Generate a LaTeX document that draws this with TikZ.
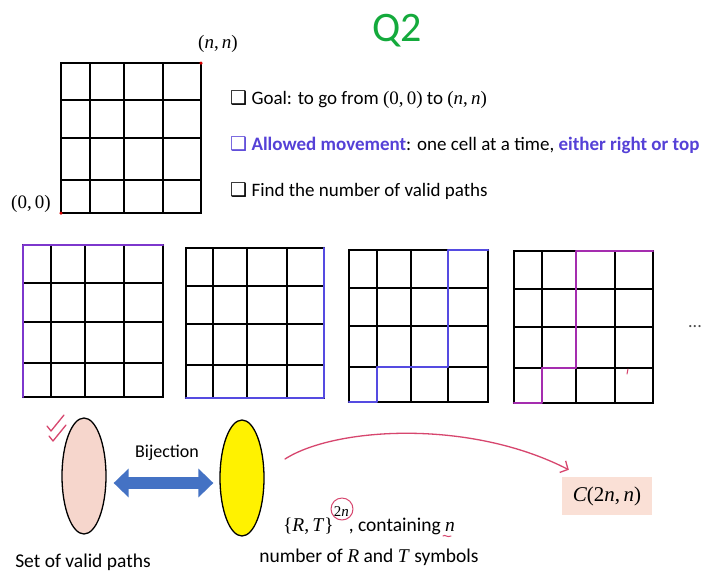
\documentclass[tikz,border=0pt]{standalone}
\usepackage{fontspec}
\setmainfont{Carlito}
\newfontfamily\symfont{DejaVu Sans}
\newfontfamily\mathser{Liberation Serif}
\newcommand{\sv}[1]{{\mathser #1}}
\usetikzlibrary{arrows.meta,shapes.geometric,calc}

\definecolor{qgreen}{RGB}{20,170,60}
\definecolor{mvblue}{RGB}{85,65,215}
\definecolor{pathpurple}{RGB}{125,55,205}
\definecolor{pathblue}{RGB}{85,75,225}
\definecolor{pathmag}{RGB}{165,45,175}
\definecolor{pinkfill}{RGB}{246,214,204}
\definecolor{bijblue}{RGB}{68,114,196}
\definecolor{inkred}{RGB}{215,70,110}
\definecolor{cboxfill}{RGB}{250,224,214}

% one square lattice: #1 x positions, #2 y positions, #3/#4 x range, #5/#6 y range
\newcommand{\latticegrid}[6]{%
  \foreach \gx in {#1} \draw[gridline] (\gx,#5) -- (\gx,#6);
  \foreach \gy in {#2} \draw[gridline] (#3,\gy) -- (#4,\gy);
}

\begin{document}
\begin{tikzpicture}[x=1pt,y=-1pt,
  gridline/.style={line width=2.2pt,black,line cap=rect},
  walk/.style={line width=2.6pt,line cap=round,line join=round},
  bodytext/.style={inner sep=0pt,font=\fontsize{19}{22}\selectfont},
  lowtext/.style={inner sep=0pt,font=\fontsize{19.5}{23}\selectfont},
  mathlabel/.style={inner sep=0pt,font=\fontsize{19}{22}\selectfont},
  cornerdot/.style={circle,fill=red!85!black,inner sep=0pt,minimum size=3.5pt},
  blob/.style={ellipse,draw,line width=1.3pt,inner sep=0pt,minimum width=44pt,minimum height=116pt},
  bij/.style={bijblue,line width=12pt,{Triangle[length=15pt,width=28pt]}-{Triangle[length=15pt,width=28pt]}},
  ink/.style={inkred,line width=1.3pt,line cap=round,line join=round}]
\useasboundingbox (0,0) rectangle (712,571);
\fill[white] (0,0) rectangle (712,571);

% title
\node[inner sep=0pt,text=qgreen,font=\fontsize{42}{46}\selectfont] (title) at (397,31) {Q2};

% reference lattice with its two corners
\latticegrid{61,90,124,163,201}{63,100,138,180,213}{61}{201}{63}{213}
\node[cornerdot] (cnn) at (201,63) {};
\node[cornerdot] (c00) at (61,213) {};
\node[mathlabel] (lnn) at (218,44) {\sv{(\textit{n},\,\textit{n})}};
\node[mathlabel] (l00) at (31,204) {\sv{(0,\,0)}};

% the three statements
\node[bodytext,anchor=west] (goal) at (230,100)
  {{\symfont ❑}\ Goal: to go from \sv{(0,\,0)} to \sv{(\textit{n},\,\textit{n})}};
\node[bodytext,anchor=west] (moves) at (230,145)
  {{\color{mvblue}{\symfont ❑}\ \textbf{Allowed movement}}: one cell at a time, {\color{mvblue}\textbf{either right or top}}};
\node[bodytext,anchor=west] (count) at (230,191)
  {{\symfont ❑}\ Find the number of valid paths};

% example walks
\latticegrid{23,51,85,124,163}{245,283,322,363,397}{23}{163}{245}{397}
\draw[walk,pathpurple] (23,397) -- (23,245) -- (163,245);

\latticegrid{186,213,247,287,324}{248,286,324,365,398}{186}{324}{248}{398}
\draw[walk,pathblue] (186,398) -- (324,398) -- (324,248);

\latticegrid{349,377,411,448,488}{250,288,326,367,402}{349}{488}{250}{402}
\draw[walk,pathblue] (349,402) -- (377,402) -- (377,367) -- (448,367) -- (448,250) -- (488,250);

\latticegrid{514,542,576,615,653}{251,289,327,368,403}{514}{653}{251}{403}
\draw[walk,pathmag] (514,403) -- (542,403) -- (542,368) -- (576,368) -- (576,251) -- (653,251);
\draw[ink,line width=1pt] (628,369) -- (627,374);

\node[inner sep=0pt,text=black!70,font=\fontsize{18}{20}\selectfont] (more) at (695,327) {...};

% the two sets and the bijection between them
\node[blob,fill=pinkfill] (paths) at (84,476) {};
\node[blob,fill=yellow] (words) at (242,478) {};
\draw[bij] ($(paths.east)+(7,7)$) -- ($(words.west)+(-6,5)$);
\node[lowtext,font=\fontsize{18}{21}\selectfont] (bijlabel) at (167,453) {Bijection};
\node[lowtext] (setlabel) at (83,562) {Set of valid paths};
\draw[ink] (47,426) -- (51,431) -- (64,415);
\draw[ink] (49,436) -- (53,441) -- (66,425);

% description of the words
\node[lowtext,anchor=base] (wordline1) at (369,531) {\sv{\{\textit{R},\,\textit{T}\}\raisebox{15pt}{\fontsize{15}{15}\selectfont 2\textit{n}}}, containing \sv{\textit{n}}};
\node[lowtext] (wordline2) at (369,557) {number of \sv{\textit{R}} and \sv{\textit{T}} symbols};
\draw[ink,line width=1pt] (342,509) circle (11);
\draw[ink,line width=1pt] (443,536) .. controls (445,534) and (447,538) .. (451,536);

% count of the words
\node[fill=cboxfill,inner sep=0pt,minimum width=90pt,minimum height=38pt,font=\fontsize{21}{24}\selectfont] (binom) at (607,496) {\sv{\textit{C}(2\textit{n},\,\textit{n})}};
\coordinate (arcstart) at (285,459);
\draw[ink,-{Straight Barb[length=6pt,width=13pt]}] (arcstart) .. controls (335,427) and (470,419) .. ($(binom.north west)+(7,-7)$);
\end{tikzpicture}
\end{document}
